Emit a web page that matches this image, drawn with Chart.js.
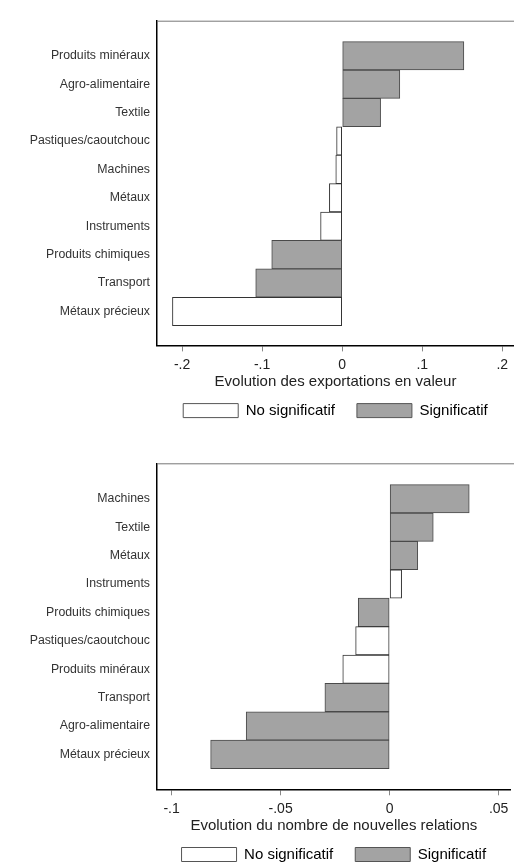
<!DOCTYPE html>
<html><head><meta charset="utf-8">
<script src="https://cdn.jsdelivr.net/npm/chart.js@4"></script>
<style>
html,body{margin:0;padding:0;background:#fff;overflow:hidden;width:514px;height:864px}
.box{position:absolute;left:0;width:514px}
</style></head><body>
<div class="box" style="top:0;height:432px"><canvas id="c1" width="514" height="432"></canvas></div>
<div class="box" style="top:432px;height:440px"><canvas id="c2" width="514" height="440"></canvas></div>
<script>
// Chart 1: exportations en valeur
const categories1 = ['Produits minéraux','Agro-alimentaire','Textile','Pastiques/caoutchouc','Machines','Métaux','Instruments','Produits chimiques','Transport','Métaux précieux'];
const values1 = [0.152, 0.072, 0.048, -0.007, -0.008, -0.016, -0.027, -0.088, -0.108, -0.212];
const significant1 = [true, true, true, false, false, false, false, true, true, false];
const tickValues1 = [-0.2, -0.1, 0, 0.1, 0.2];
const tickLabels1 = ['-.2', '-.1', '0', '.1', '.2'];
const xTitle1 = 'Evolution des exportations en valeur';

// Chart 2: nombre de nouvelles relations
const categories2 = ['Machines','Textile','Métaux','Instruments','Produits chimiques','Pastiques/caoutchouc','Produits minéraux','Transport','Agro-alimentaire','Métaux précieux'];
const values2 = [0.0365, 0.020, 0.0129, 0.0055, -0.0144, -0.0156, -0.0215, -0.0297, -0.0658, -0.0821];
const significant2 = [true, true, true, false, true, false, false, true, true, true];
const tickValues2 = [-0.1, -0.05, 0, 0.05];
const tickLabels2 = ['-.1', '-.05', '0', '.05'];
const xTitle2 = 'Evolution du nombre de nouvelles relations';

const legendLabels = ['No significatif', 'Significatif'];

const GRAY = '#a3a3a3', WHITE = '#ffffff', EDGE = '#4a4a4a';
const FONT = "'Liberation Sans', Arial, sans-serif";

const topFrame = {
  id: 'topFrame',
  afterDraw(chart) {
    const {ctx, chartArea: a} = chart;
    ctx.save();
    ctx.strokeStyle = '#777';
    ctx.lineWidth = 1;
    ctx.beginPath();
    ctx.moveTo(a.left, a.top + 0.5);
    ctx.lineTo(chart.width, a.top + 0.5);
    ctx.stroke();
    ctx.restore();
  }
};

function makeChart(id, cats, vals, sig, tVals, tLabels, title, xmin, xmax, ymin, ymax, padTop, padBottom) {
  const data = vals.map((v, i) => ({x: v, y: i}));
  return new Chart(document.getElementById(id), {
    type: 'bar',
    data: {
      datasets: [{
        data: data,
        backgroundColor: sig.map(s => s ? GRAY : WHITE),
        borderColor: sig.map(s => s ? EDGE : '#333'),
        borderWidth: 1,
        borderSkipped: false,
        barPercentage: 1,
        categoryPercentage: 1
      }]
    },
    options: {
      indexAxis: 'y',
      responsive: false,
      animation: false,
      layout: {padding: {top: padTop, bottom: padBottom, left: 0, right: 0}},
      scales: {
        x: {
          type: 'linear',
          position: 'bottom',
          min: xmin, max: xmax,
          afterBuildTicks: s => { s.ticks = tVals.map(v => ({value: v})); },
          grid: {drawOnChartArea: false, drawTicks: true, tickLength: 6, color: '#888', tickColor: '#888'},
          border: {display: true, color: '#000', width: 1.5},
          ticks: {
            callback: (v) => { const k = tVals.findIndex(t => Math.abs(t - v) < 1e-9); return k >= 0 ? tLabels[k] : ''; },
            font: {family: FONT, size: 14}, color: '#222', padding: 5.6, maxRotation: 0, autoSkip: false
          },
          title: {display: true, text: title, font: {family: FONT, size: 15}, color: '#222', padding: {top: -6.4, bottom: -9.9}}
        },
        y: {
          type: 'linear',
          position: 'left',
          reverse: true,
          offset: false,
          min: ymin, max: ymax,
          afterBuildTicks: s => { s.ticks = cats.map((c, i) => ({value: i})); },
          afterFit: s => { s.width = 157; },
          grid: {display: false, drawTicks: false, offset: false},
          border: {display: true, color: '#000', width: 1.5},
          ticks: {
            callback: (v) => cats[v] !== undefined ? cats[v] : '',
            font: {family: FONT, size: 12.3}, color: '#333', padding: 7, autoSkip: false
          }
        }
      },
      plugins: {
        legend: {
          display: true,
          position: 'bottom',
          fullSize: false,
          labels: {
            boxWidth: 55, boxHeight: 14, padding: 22,
            font: {family: FONT, size: 15}, color: '#222',
            generateLabels: () => [
              {text: legendLabels[0], fillStyle: WHITE, strokeStyle: '#555', lineWidth: 1, datasetIndex: 0},
              {text: legendLabels[1], fillStyle: GRAY, strokeStyle: '#555', lineWidth: 1, datasetIndex: 0}
            ]
          }
        },
        tooltip: {enabled: false}
      }
    },
    plugins: [topFrame]
  });
}

makeChart('c1', categories1, values1, significant1, tickValues1, tickLabels1, xTitle1, -0.2313, 0.2146, -1.235, 10.196, 20.7, 3.9);
makeChart('c2', categories2, values2, significant2, tickValues2, tickLabels2, xTitle2, -0.1067, 0.0555, -1.25, 10.23, 31.3, 0);
</script>
</body></html>
